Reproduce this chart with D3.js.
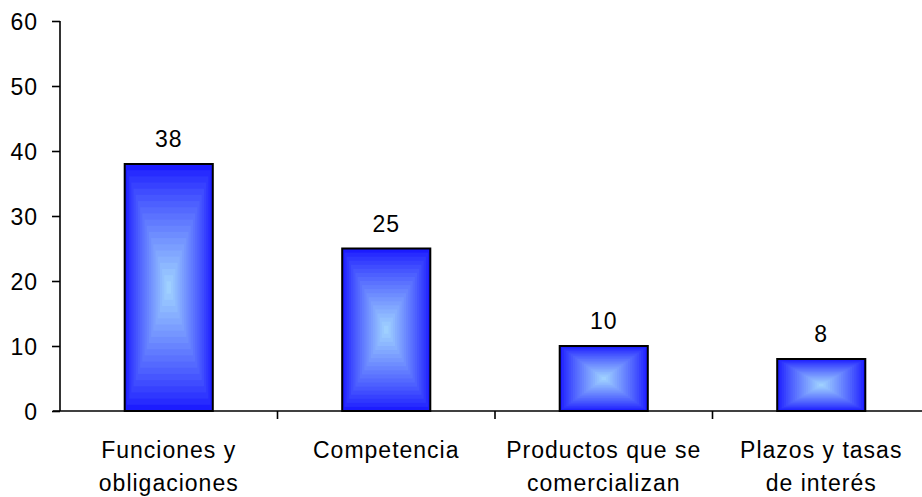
<!DOCTYPE html>
<html>
<head>
<meta charset="utf-8">
<script src="https://cdn.jsdelivr.net/npm/d3@7"></script>
<style>
  html, body { margin: 0; padding: 0; background: #fff; }
  svg { display: block; font-family: "Liberation Sans", Arial, sans-serif; }
  text { letter-spacing: 1px; }
</style>
</head>
<body>
<svg id="chart" width="922" height="497"></svg>
<script>
// Categories (each split into the lines it is printed on) and their values
const categories = ["Funciones y obligaciones", "Competencia", "Productos que se comercializan", "Plazos y tasas de interés"];
const categoryLines = [["Funciones y", "obligaciones"], ["Competencia"], ["Productos que se", "comercializan"], ["Plazos y tasas", "de interés"]];
const values = [38, 25, 10, 8];
const yTicks = [0, 10, 20, 30, 40, 50, 60];

const svg = d3.select("#chart");
const fontSize = 23;

const x = d3.scaleBand().domain(categories).range([60, 930]).padding(0);
const y = d3.scaleLinear().domain([0, 60]).range([411, 21]);
const barFrac = 0.405;

// Y axis
const yAxis = svg.append("g").attr("transform", "translate(60,0)")
  .call(d3.axisLeft(y).tickValues(yTicks).tickSize(8).tickPadding(14));
yAxis.select(".domain").attr("stroke", "#000").attr("stroke-width", 1.6).attr("d", `M0,${y(60)}V${y(0)}`);
yAxis.selectAll(".tick line").attr("stroke", "#000").attr("stroke-width", 1.6);
yAxis.selectAll(".tick text").attr("font-size", fontSize).attr("fill", "#000")
  .attr("font-family", "'Liberation Sans', Arial, sans-serif").attr("dy", "0.35em");

// Bars with a rectangular (box) gradient from the edges to the centre
const edgeColor = "#1c1cff", centerColor = "#9fd0ff";
const steps = 20;
const interp = d3.interpolateRgb(edgeColor, centerColor);

const bars = svg.append("g");
categories.forEach((c, i) => {
  const bw = x.bandwidth() * barFrac;
  const bx = x(c) + (x.bandwidth() - bw) / 2;
  const by = y(values[i]);
  const bh = y(0) - by;
  const g = bars.append("g");
  for (let s = 0; s < steps; s++) {
    const t = s / steps;
    const ix = (bw / 2) * t, iy = (bh / 2) * t;
    g.append("rect")
      .attr("x", bx + ix).attr("y", by + iy)
      .attr("width", Math.max(bw - 2 * ix, 0.5)).attr("height", Math.max(bh - 2 * iy, 0.5))
      .attr("fill", interp(Math.pow(s / (steps - 1), 0.85)));
  }
  g.append("rect")
    .attr("x", bx).attr("y", by).attr("width", bw).attr("height", bh)
    .attr("fill", "none").attr("stroke", "#000").attr("stroke-width", 2);

  // Value label above the bar
  svg.append("text")
    .attr("x", bx + bw / 2).attr("y", by - 17)
    .attr("text-anchor", "middle").attr("font-size", fontSize).attr("fill", "#000")
    .text(values[i]);
});

// X axis line with category separators
const xAxis = svg.append("g").attr("transform", `translate(0,${y(0)})`);
xAxis.append("line").attr("x1", 53).attr("x2", 930).attr("y1", 0).attr("y2", 0)
  .attr("stroke", "#000").attr("stroke-width", 1.6);
categories.slice(1).forEach(c => {
  xAxis.append("line").attr("x1", x(c)).attr("x2", x(c)).attr("y1", 0).attr("y2", 8)
    .attr("stroke", "#000").attr("stroke-width", 1.6);
});

// Category labels
categories.forEach((c, i) => {
  const t = svg.append("text")
    .attr("text-anchor", "middle").attr("font-size", fontSize).attr("fill", "#000");
  categoryLines[i].forEach((line, k) => {
    t.append("tspan").attr("x", x(c) + x.bandwidth() / 2).attr("y", 458 + k * 33).text(line);
  });
});
</script>
</body>
</html>
